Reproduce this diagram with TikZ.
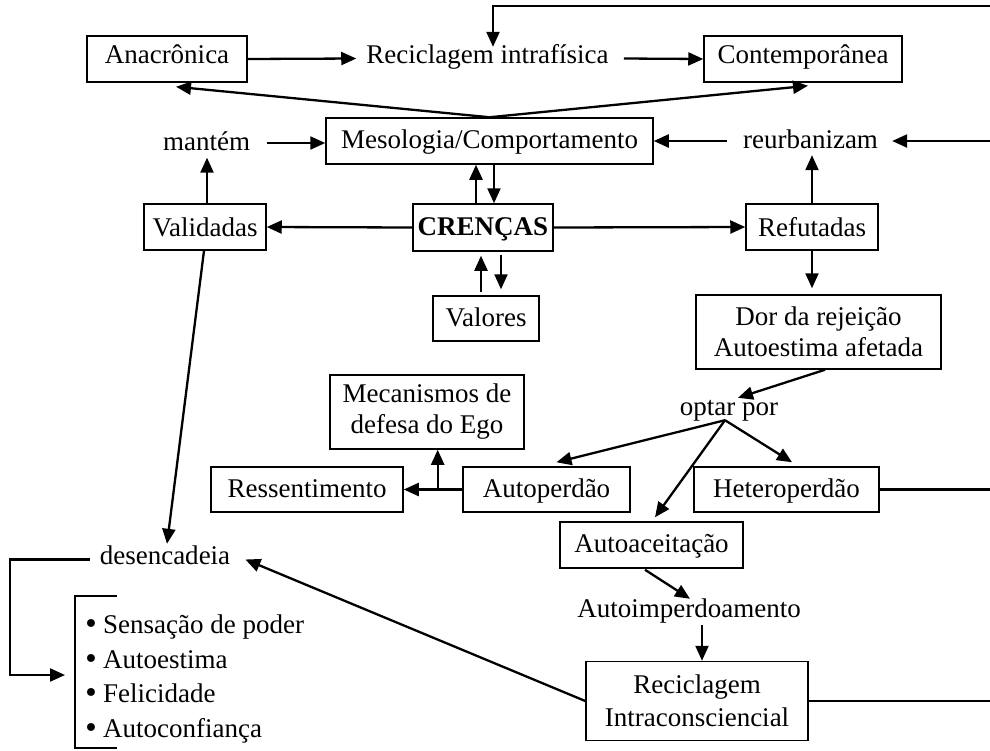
\documentclass[tikz,border=0pt]{standalone}
\usepackage{fontspec}
\setmainfont{Liberation Serif}
\newfontfamily\bulletfont{DejaVu Sans}
\usetikzlibrary{arrows.meta,calc}
\newcommand{\itembullet}{{\bulletfont •}\hspace{4pt}}
\begin{document}
\begin{tikzpicture}[x=1pt,y=-1pt,
  font=\fontsize{27}{31}\selectfont,
  box/.style={draw, line width=1.5pt, inner sep=0pt, text height=19pt, text depth=4pt},
  twobox/.style={draw, line width=1.5pt, inner sep=0pt, align=center},
  lbl/.style={inner sep=0pt, text height=16pt, text depth=7pt},
  arr/.style={-{Triangle[length=15pt,width=13pt]}, line width=2.3pt},
  ln/.style={line width=2.3pt},
]
\useasboundingbox (0,0) rectangle (990,750);

% boxes and labels
\node[box, text height=16pt, text depth=7pt, minimum width=160pt, minimum height=46pt] (ana) at (167,59) {Anacrônica};
\node[lbl] (recI) at (487.5,58.5) {Reciclagem intrafísica};
\node[box, text height=16pt, text depth=7pt, minimum width=198pt, minimum height=46pt] (cont) at (803,59) {Contemporânea};
\node[box, minimum width=327pt, minimum height=46pt] (meso) at (489.5,141) {Mesologia/Comportamento};
\node[lbl] (mant) at (206.5,146) {mantém};
\node[lbl] (reur) at (810.5,143.5) {reurbanizam};
\node[box, text height=21pt, text depth=2pt, minimum width=122pt, minimum height=46pt] (val) at (205,227) {Validadas};
\node[box, minimum width=140pt, minimum height=47pt, font=\fontsize{27}{31}\selectfont\bfseries] (cren) at (483,227.5) {CRENÇAS};
\node[box, text height=21pt, text depth=2pt, minimum width=132pt, minimum height=46pt] (ref) at (812,227) {Refutadas};
\node[box, minimum width=106pt, minimum height=45pt] (valo) at (486,318.5) {Valores};
\node[twobox, minimum width=245pt, minimum height=74pt] (dor) at (818.5,332) {Dor da rejeição\\Autoestima afetada};
\node[lbl] (opt) at (729,410.5) {optar por};
\node[twobox, minimum width=194pt, minimum height=74pt] (mec) at (427,412) {Mecanismos de\\defesa do Ego};
\node[box, minimum width=192pt, minimum height=45pt] (res) at (307,489.5) {Ressentimento};
\node[box, minimum width=167pt, minimum height=45pt] (autop) at (546.5,489.5) {Autoperdão};
\node[box, minimum width=185pt, minimum height=45pt] (het) at (786.5,489.5) {Heteroperdão};
\node[box, minimum width=183pt, minimum height=46pt] (autoac) at (651.5,545) {Autoaceitação};
\node[lbl] (autoimp) at (689,612.5) {Autoimperdoamento};
\node[twobox, minimum width=222pt, minimum height=79pt] (recin) at (697,701) {Reciclagem\\[2pt]Intraconsciencial};
\node[lbl] (des) at (165,559.5) {desencadeia};

% bulleted list
\node[anchor=base west, inner sep=0pt] (l1) at (83,633) {\itembullet Sensação de poder};
\node[anchor=base west, inner sep=0pt] (l2) at (83,668) {\itembullet Autoestima};
\node[anchor=base west, inner sep=0pt] (l3) at (83,702) {\itembullet Felicidade};
\node[anchor=base west, inner sep=0pt] (l4) at (83,737) {\itembullet Autoconfiança};

% loose ends along the right border
\coordinate (eTop) at (990,6);
\coordinate (eR) at (990,0);
\coordinate (br) at ($(res.east)!0.58!(autop.west)$);
\coordinate (apex) at ($(opt.south)+(-4,-2)$);
\coordinate (bl) at (10,675);
\coordinate (listIn) at (65,675);
\coordinate (lt) at (117,596);
\coordinate (lb) at (117,748);
\coordinate (lx) at (75,0);

% top row
\draw[arr] (ana.east) -- ([xshift=-10pt]recI.west);
\draw[arr] ([xshift=15pt]recI.east) -- (cont.west);
\draw[arr] (eTop) -| ([xshift=5.5pt]recI.north);
\draw[arr] (meso.north) -- ($(ana.south)+(9,4)$);
\draw[arr] (meso.north) -- ($(cont.south)+(5,3)$);

% second row
\draw[arr] ($(mant.east)+(17,-3)$) -- ($(meso.west)+(0,2)$);
\draw[arr] ($(reur.west |- meso.east)+(-16,0)$) -- (meso.east);
\draw[arr] (meso.east -| eR) -- ($(reur.east |- meso.east)+(14,0)$);

% beliefs
\draw[arr] ($(val.north)+(2,0)$) -- ($(val.north |- mant.south)+(2,0)$);
\draw[arr] (cren.west) -- (val.east);
\draw[arr] (cren.east) -- (ref.west);
\draw[arr] ($(cren.north)+(-7,0)$) -- ($(cren.north |- meso.south)+(-7,0)$);
\draw[arr] ($(meso.south -| cren.north)+(11,0)$) -- ($(cren.north)+(11,0)$);
\draw[arr] ($(valo.north)+(-5,-3)$) -- ($(cren.south)+(-2,4)$);
\draw[arr] ($(cren.south)+(18,3)$) -- ($(valo.north -| cren.south)+(18,-6)$);
\draw[arr] (ref.north) -- (ref.north |- reur.south);
\draw[arr] (ref.south) -- ($(dor.north -| ref.south)+(0,-6)$);

% choices
\draw[arr] ($(dor.south)+(6.5,0)$) -- ($(opt.north)+(9,-1)$);
\draw[arr] (apex) -- ($(autop.north)+(10,-4)$);
\draw[arr] (apex) -- ($(het.north)+(5.5,-4)$);
\draw[arr] (apex) -- ($(autoac.north)+(3.5,-4)$);
\draw[arr] (autop.west) -- (res.east);
\draw[arr] (br) -- (br |- mec.south);
\draw[ln] (het.east) -- (het.east -| eR);
\draw[arr] ($(autoac.south)+(-6.5,1)$) -- ($(autoimp.north)+(1,-2)$);
\draw[arr] ($(autoimp.south)+(13,1)$) -- ($(autoimp.south |- recin.north)+(13,0)$);
\draw[ln] (recin.east) -- (recin.east -| eR);

% consequences
\draw[arr] (recin.west) -- ($(des.east)+(15,0)$);
\draw[arr] ($(val.south)+(-1,0)$) -- ($(des.north)+(2,-4)$);
\draw[arr] ($(des.west)+(-10,0)$) -| (bl) -- (listIn);
\draw[ln] (lt) -| (lt -| lx) |- (lb);
\end{tikzpicture}
\end{document}
